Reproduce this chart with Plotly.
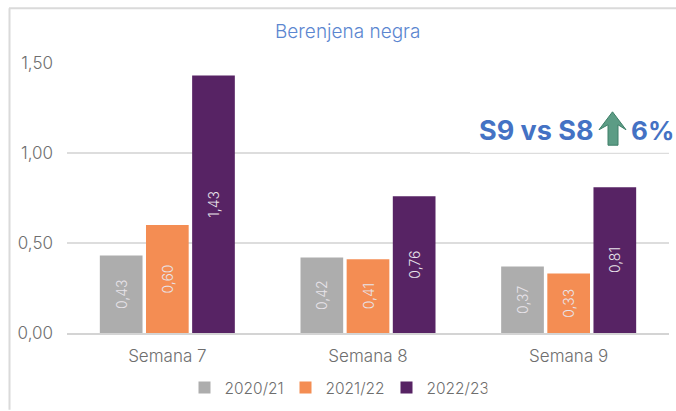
import plotly.graph_objects as go

W, H = 676, 411
L, R, T, B = 67, 7, 63, 77
categories = ["Semana 7", "Semana 8", "Semana 9"]
seasons = ["2020/21", "2021/22", "2022/23"]
v2021 = [0.43, 0.42, 0.37]
v2122 = [0.60, 0.41, 0.33]
v2223 = [1.43, 0.76, 0.81]
series = [v2021, v2122, v2223]
colors = ["#ADADAD", "#F48D53", "#572364"]
FONT = "Inter"
GREY = "#6E6E6E"

def px(x):
    return (x - L) / (W - L - R)

def py(y):
    return 1 - (y - T) / (H - T - B)

fig = go.Figure()
for name, vals, col in zip(seasons, series, colors):
    fig.add_bar(
        name=name, x=categories, y=vals, marker_color=col, marker_line_width=0,
        text=[f"{v:.2f}".replace(".", ",") for v in vals],
        textposition="inside", insidetextanchor="middle", textangle=-90,
        insidetextfont=dict(family=FONT, size=14, color="#E8E4EA", weight=300),
        cliponaxis=False,
    )

shapes = [
    dict(type="line", xref="paper", yref="paper", x0=px(9.5), x1=px(9.5), y0=py(8), y1=py(411),
         line=dict(color="#DADADA", width=2)),
    dict(type="line", xref="paper", yref="paper", x0=px(9), x1=px(676), y0=py(8), y1=py(8),
         line=dict(color="#DADADA", width=2)),
    dict(type="rect", xref="paper", yref="paper", x0=px(470), x1=px(670), y0=py(152.2), y1=py(153.1),
         fillcolor="white", line_width=0, layer="above"),
    dict(type="path", xref="paper", yref="paper", fillcolor="#5C9C85",
         line=dict(color="#3E7F68", width=1), layer="above",
         path="M {} {} L {} {} L {} {} L {} {} L {} {} L {} {} L {} {} Z".format(
             px(612.5), py(112), px(626), py(130), px(618), py(125), px(618), py(145.5),
             px(608), py(145.5), px(608), py(125), px(599), py(130))),
]

annotations = [
    dict(text="Berenjena negra", xref="paper", yref="paper", x=px(347), y=py(31), xanchor="center",
         yanchor="middle", showarrow=False, font=dict(family=FONT, size=19, color="#5B86D0", weight=300)),
    dict(text="<b>S9 vs S8</b>", xref="paper", yref="paper", x=px(596), y=py(131), xanchor="right",
         yanchor="middle", showarrow=False, font=dict(family=FONT, size=27, color="#4472C4")),
    dict(text="<b>6%</b>", xref="paper", yref="paper", x=px(629), y=py(131), xanchor="left",
         yanchor="middle", showarrow=False, font=dict(family=FONT, size=26, color="#4472C4")),
]

fig.update_layout(
    width=W, height=H, autosize=False,
    margin=dict(l=L, r=R, t=T, b=B),
    paper_bgcolor="white", plot_bgcolor="white",
    barmode="group", bargap=0.31, bargroupgap=0.075,
    font=dict(family=FONT, size=15, color=GREY),
    showlegend=True,
    legend=dict(orientation="h", x=px(336), xanchor="center", y=py(388), yanchor="middle",
                font=dict(family=FONT, size=15.5, color=GREY, weight=300), itemwidth=30,
                entrywidth=56, entrywidthmode="pixels", traceorder="normal"),
    shapes=shapes, annotations=annotations,
    yaxis=dict(range=[0, 1.5], tickvals=[0, 0.5, 1, 1.5],
               ticktext=["0,00", "0,50", "1,00", "1,50"], gridcolor="#DDDDDD", gridwidth=1.5,
               zeroline=False, showline=False, ticks="", ticklen=0, ticklabelstandoff=13,
               tickfont=dict(family=FONT, size=17, color=GREY, weight=300)),
    xaxis=dict(showline=True, linecolor="#D4D4D4", linewidth=1.5, ticks="", showgrid=False,
               ticklabelstandoff=7,
               tickfont=dict(family=FONT, size=17, color=GREY, weight=300)),
)
fig.write_html("out.html", config=dict(displayModeBar=False),
               post_script="document.body.style.margin='0';document.body.style.overflow='hidden';")
